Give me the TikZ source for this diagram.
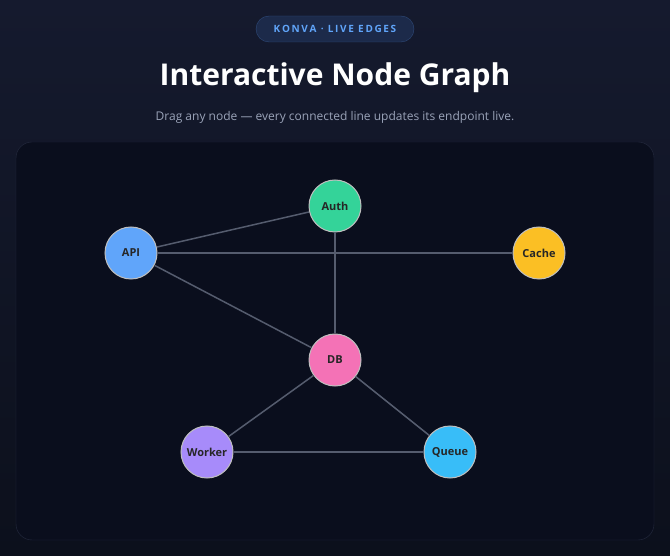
\documentclass[tikz,border=0pt]{standalone}
\usepackage{fontspec}
\setmainfont{Open Sans}
\usetikzlibrary{positioning}
\definecolor{bgtop}{HTML}{151A2E}
\definecolor{bgbot}{HTML}{0C101C}
\definecolor{panel}{HTML}{0A0E1D}
\definecolor{panelline}{HTML}{262C40}
\definecolor{edgecol}{HTML}{555C6E}
\definecolor{pillfill}{HTML}{1C2A4A}
\definecolor{pillline}{HTML}{2F4A7A}
\definecolor{pilltext}{HTML}{60A5FA}
\definecolor{subtext}{HTML}{9AA3B8}
\definecolor{cauth}{HTML}{34D399}
\definecolor{capi}{HTML}{60A5FA}
\definecolor{ccache}{HTML}{FBBF24}
\definecolor{cdb}{HTML}{F472B6}
\definecolor{cworker}{HTML}{A78BFA}
\definecolor{cqueue}{HTML}{38BDF8}
\tikzset{
  gnode/.style = {circle, draw=white!75!black, line width=1pt, minimum size=52pt, inner sep=0pt, font=\fontsize{11}{13}\selectfont\bfseries, text=black!85},
  link/.style = {draw=edgecol, line width=1.5pt},
}
\begin{document}
\begin{tikzpicture}[x=1pt, y=-1pt]
  \shade[top color=bgtop, bottom color=bgbot] (0,0) rectangle (670,556);
  \useasboundingbox (0,0) rectangle (670,556);

  % header
  \node (pill) [draw=pillline, fill=pillfill, rounded corners=13pt, minimum width=158pt, minimum height=26pt, text=pilltext, font=\fontsize{10}{12}\selectfont\bfseries] at (335,29) {K\,O\,N\,V\,A \,·\, L\,I\,V\,E \,E\,D\,G\,E\,S};
  \node (title) [text=white, font=\fontsize{30}{36}\selectfont\bfseries] at (335,78) {Interactive Node Graph};
  \node (sub) [text=subtext, font=\fontsize{12}{14}\selectfont] at (335,117) {Drag any node — every connected line updates its endpoint live.};

  % panel
  \draw[panelline, fill=panel, rounded corners=16pt] (16,142) rectangle (654,540);

  % nodes
  \node (auth) [gnode, fill=cauth] at (335,206) {Auth};
  \node (api) [gnode, fill=capi] at (131,253) {API};
  \node (cache) [gnode, fill=ccache] at (539,253) {Cache};
  \node (db) [gnode, fill=cdb] at (335,360) {DB};
  \node (worker) [gnode, fill=cworker] at (207,452) {Worker};
  \node (queue) [gnode, fill=cqueue] at (450,452) {Queue};

  % edges
  \begin{scope}[on background layer/.style={}]
  \end{scope}
  \path [link] (api) -- (auth);
  \path [link] (api) -- (cache);
  \path [link] (api) -- (db);
  \path [link] (auth) -- (db);
  \path [link] (db) -- (worker);
  \path [link] (db) -- (queue);
  \path [link] (worker) -- (queue);
\end{tikzpicture}
\end{document}
